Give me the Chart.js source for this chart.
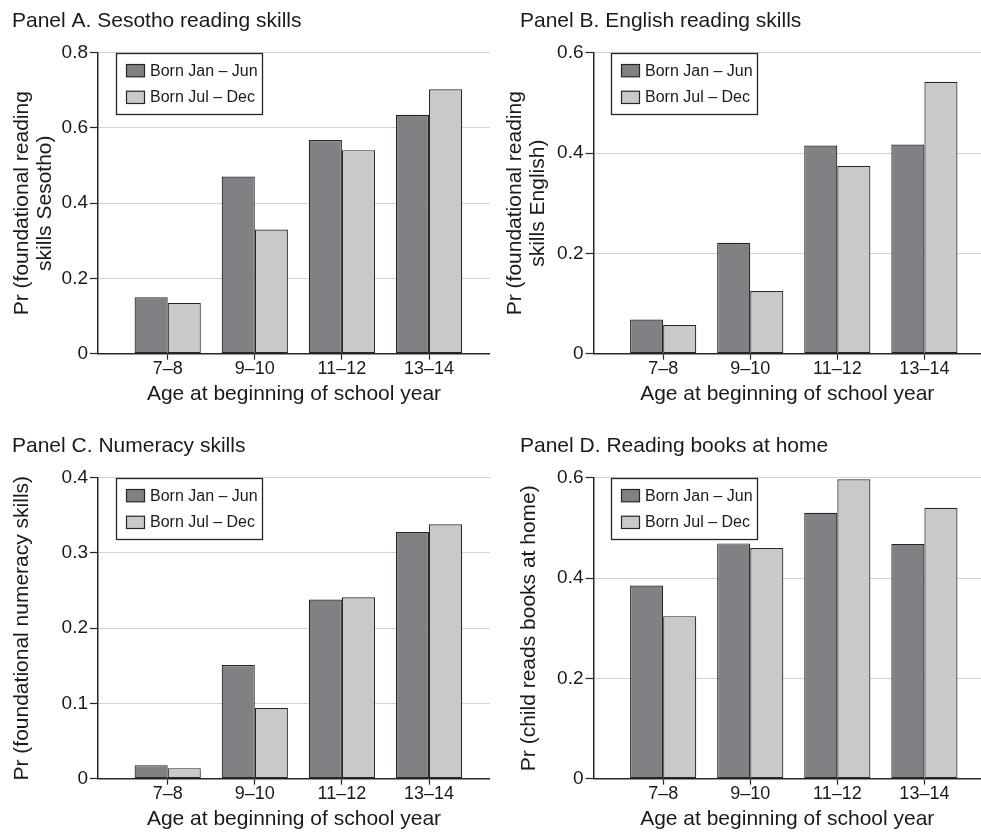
<!DOCTYPE html>
<html>
<head>
<meta charset="utf-8">
<title>Reading and numeracy skills by age and birth half-year</title>
<script src="https://cdn.jsdelivr.net/npm/chart.js@4"></script>
<style>
  html, body { margin: 0; padding: 0; background: #fff; overflow: hidden; }
  body { width: 981px; height: 832px; position: relative; }
  canvas { position: absolute; }
</style>
</head>
<body>
<canvas id="panelA" width="490" height="425" style="left:0;top:0"></canvas>
<canvas id="panelB" width="491" height="425" style="left:490px;top:0"></canvas>
<canvas id="panelC" width="490" height="425" style="left:0;top:425px"></canvas>
<canvas id="panelD" width="491" height="425" style="left:490px;top:425px"></canvas>
<script>
// age groups on the x axis and the two birth-half groups
var ageGroups = ["7–8", "9–10", "11–12", "13–14"];
var birthGroups = ["Born Jan – Jun", "Born Jul – Dec"];

// share of children with each outcome
var sesothoJanJun = [0.150, 0.471, 0.568, 0.635];
var sesothoJulDec = [0.135, 0.330, 0.541, 0.703];
var englishJanJun = [0.068, 0.221, 0.415, 0.417];
var englishJulDec = [0.057, 0.125, 0.374, 0.542];
var numeracyJanJun = [0.018, 0.151, 0.238, 0.328];
var numeracyJulDec = [0.014, 0.094, 0.241, 0.338];
var booksJanJun = [0.385, 0.469, 0.530, 0.468];
var booksJulDec = [0.324, 0.460, 0.597, 0.540];

// y axis range and step for each panel
var yMaxA = 0.8, yStepA = 0.2;
var yMaxB = 0.6, yStepB = 0.2;
var yMaxC = 0.4, yStepC = 0.1;
var yMaxD = 0.6, yStepD = 0.2;

var darkGrey = "#808185";
var lightGrey = "#c8c9cb";
var edge = "#262626";
var ink = "#1a1a1a";

Chart.defaults.font.family = "'Liberation Sans', Arial, Helvetica, sans-serif";
Chart.defaults.color = ink;

// framed legend drawn in the top left corner of the plot
var boxLegend = {
  id: "boxLegend",
  afterDraw: function(chart) {
    var ctx = chart.ctx;
    var area = chart.chartArea;
    var x = Math.round(area.left + 17.5) + 0.5;
    var y = Math.round(area.top) + 0.5;
    ctx.save();
    ctx.fillStyle = "#fff";
    ctx.fillRect(x, y, 146, 61);
    ctx.lineWidth = 1.3;
    ctx.strokeStyle = edge;
    ctx.strokeRect(x, y, 146, 61);
    ctx.font = "16px 'Liberation Sans', Arial, sans-serif";
    ctx.textBaseline = "middle";
    chart.data.datasets.forEach(function(ds, i) {
      var sy = y + 11 + i * 26.7;
      ctx.fillStyle = ds.backgroundColor;
      ctx.fillRect(x + 10, sy, 18, 12.3);
      ctx.lineWidth = 1.2;
      ctx.strokeRect(x + 10, sy, 18, 12.3);
      ctx.fillStyle = ink;
      ctx.fillText(ds.label, x + 33.5, sy + 6.6);
    });
    ctx.restore();
  }
};

function toPoints(values) {
  return values.map(function(v, i) { return { x: i + 1, y: v }; });
}

function makePanel(id, p) {
  new Chart(document.getElementById(id), {
    type: "bar",
    data: {
      datasets: [
        { label: birthGroups[0], data: toPoints(p.first), backgroundColor: darkGrey,
          borderColor: edge, borderWidth: 1.2, borderSkipped: false },
        { label: birthGroups[1], data: toPoints(p.second), backgroundColor: lightGrey,
          borderColor: edge, borderWidth: 1.2, borderSkipped: false }
      ]
    },
    plugins: [boxLegend],
    options: {
      responsive: false,
      animation: false,
      categoryPercentage: 0.76,
      barPercentage: 1,
      layout: { padding: { left: p.padLeft, right: 0, top: 0, bottom: 0 } },
      plugins: {
        legend: { display: false },
        tooltip: { enabled: false },
        title: {
          display: true,
          text: p.title,
          align: "start",
          color: ink,
          font: { size: 21, weight: "normal", lineHeight: 1.2 },
          padding: { top: 8.4, bottom: 19.1 }
        }
      },
      scales: {
        x: {
          type: "linear",
          min: 0.2,
          max: p.xMax,
          offset: false,
          afterBuildTicks: function(axis) {
            axis.ticks = ageGroups.map(function(c, i) { return { value: i + 1 }; });
          },
          afterFit: function(axis) { axis.height = 71.3; },
          ticks: {
            maxRotation: 0,
            padding: 0,
            color: ink,
            font: { size: 18, lineHeight: 1 },
            callback: function(v) { return ageGroups[v - 1]; }
          },
          grid: { offset: false, drawOnChartArea: false, drawTicks: true, tickLength: 6,
                  tickColor: edge, tickWidth: 1.2 },
          border: { display: true, color: edge, width: 1.5 },
          title: {
            display: true,
            text: "Age at beginning of school year",
            color: ink,
            font: { size: 21, lineHeight: 1.2 },
            padding: { top: 0, bottom: 17.8 }
          }
        },
        y: {
          min: 0,
          max: p.yMax,
          afterFit: function(axis) { axis.width = p.yWidth; },
          ticks: {
            stepSize: p.yStep,
            padding: 2,
            color: ink,
            font: { size: 19 }
          },
          grid: { color: "#d2d2d2", lineWidth: 1, tickLength: 8,
                  tickColor: edge, tickWidth: 1.2 },
          border: { display: true, color: edge, width: 1.5 },
          title: {
            display: true,
            text: p.yTitle,
            color: ink,
            font: { size: 21, lineHeight: 1.07 },
            padding: { top: p.yTitlePad, bottom: 0 }
          }
        }
      }
    }
  });
}

makePanel("panelA", {
  title: "Panel A. Sesotho reading skills",
  yTitle: ["Pr (foundational reading", "skills Sesotho)"],
  first: sesothoJanJun, second: sesothoJulDec,
  yMax: yMaxA, yStep: yStepA,
  padLeft: 12, yWidth: 86, yTitlePad: -1, xMax: 4.7
});

makePanel("panelB", {
  title: "Panel B. English reading skills",
  yTitle: ["Pr (foundational reading", "skills English)"],
  first: englishJanJun, second: englishJulDec,
  yMax: yMaxB, yStep: yStepB,
  padLeft: 30, yWidth: 73.5, yTitlePad: -15.6, xMax: 4.65
});

makePanel("panelC", {
  title: "Panel C. Numeracy skills",
  yTitle: "Pr (foundational numeracy skills)",
  first: numeracyJanJun, second: numeracyJulDec,
  yMax: yMaxC, yStep: yStepC,
  padLeft: 12, yWidth: 86, yTitlePad: -1, xMax: 4.7
});

makePanel("panelD", {
  title: "Panel D. Reading books at home",
  yTitle: "Pr (child reads books at home)",
  first: booksJanJun, second: booksJulDec,
  yMax: yMaxD, yStep: yStepD,
  padLeft: 30, yWidth: 73.5, yTitlePad: -1.9, xMax: 4.65
});
</script>
</body>
</html>
